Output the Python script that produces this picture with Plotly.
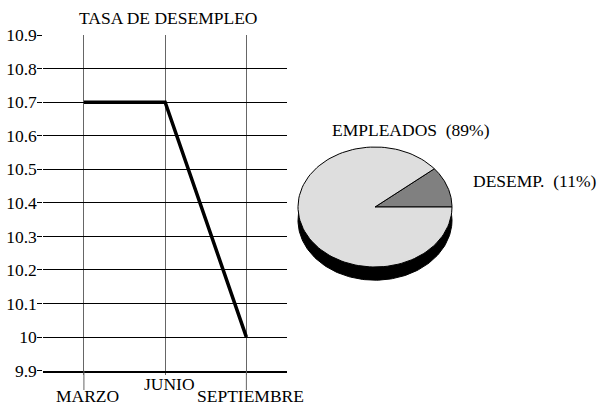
import numpy as np
import plotly.graph_objects as go

W, H = 606, 406

meses = ["MARZO", "JUNIO", "SEPTIEMBRE"]
tasa = [10.7, 10.7, 10.0]
y_ticks = [9.9, 10.0, 10.1, 10.2, 10.3, 10.4, 10.5, 10.6, 10.7, 10.8, 10.9]
y_tick_labels = ["9.9", "10", "10.1", "10.2", "10.3", "10.4", "10.5", "10.6", "10.7", "10.8", "10.9"]

pie_labels = ["DESEMP.", "EMPLEADOS"]
pie_values = [11, 89]
pie_colors = ["#808080", "#dedede"]


def px_x(p):
    return p / W


def px_y(p):
    return 1 - p / H


def slice_xy(a0, a1, n=120):
    t = np.radians(np.linspace(a0, a1, n))
    xs = np.concatenate([[0], np.cos(t), [0]])
    ys = np.concatenate([[0], np.sin(t), [0]])
    return xs, ys


fig = go.Figure()

# line chart
idx = list(range(len(meses)))
fig.add_trace(go.Scatter(x=idx, y=tasa, mode="lines",
                         line=dict(color="black", width=3.5),
                         xaxis="x", yaxis="y", showlegend=False))

# pie drawn as an ellipse (3D look: black shadow under the face)
t = np.radians(np.linspace(0, 360, 240))
fig.add_trace(go.Scatter(x=np.cos(t), y=np.sin(t) - 0.22, mode="lines",
                         fill="toself", fillcolor="black",
                         line=dict(color="black", width=1),
                         xaxis="x2", yaxis="y2", showlegend=False))

total = sum(pie_values)
start = 0.0
for lab, val, col in zip(pie_labels, pie_values, pie_colors):
    span = val / total * 360
    xs, ys = slice_xy(start, start + span)
    fig.add_trace(go.Scatter(x=xs, y=ys, mode="lines", fill="toself",
                             fillcolor=col, line=dict(color="black", width=1),
                             xaxis="x2", yaxis="y2", showlegend=False))
    start += span

FS = 17.5
fig.update_layout(
    width=W, height=H,
    margin=dict(l=0, r=0, t=0, b=0),
    paper_bgcolor="white", plot_bgcolor="white",
    font=dict(family="Liberation Serif", size=FS, color="black"),
    xaxis=dict(domain=[px_x(43.3), px_x(287)], range=[-0.5, 2.5],
               tickvals=idx, showticklabels=False, automargin=False,
               showgrid=True, gridcolor="#666666", gridwidth=1,
               ticks="outside", ticklen=2, tickcolor="#666666",
               showline=True, linecolor="black", linewidth=2,
               zeroline=False, fixedrange=True),
    yaxis=dict(domain=[px_y(370.7), px_y(35)], range=[9.9, 10.9],
               tickvals=y_ticks, ticktext=y_tick_labels, automargin=False,
               tickfont=dict(family="Liberation Serif", size=FS),
               ticklabelstandoff=-3,
               showgrid=True, gridcolor="black", gridwidth=1,
               ticks="outside", ticklen=5, tickcolor="black",
               showline=False, zeroline=False),
    xaxis2=dict(domain=[px_x(290), px_x(460)], range=[-85 / 77, 85 / 77],
                visible=False, anchor="y2", automargin=False),
    yaxis2=dict(domain=[px_y(290), px_y(140)], range=[-83 / 60, 67 / 60],
                visible=False, anchor="x2", automargin=False),
)

annotations = [dict(text="TASA DE DESEMPLEO", x=px_x(168), y=px_y(18),
                    xref="paper", yref="paper", showarrow=False,
                    xanchor="center", yanchor="middle")]

# staggered month labels
label_y = [396, 384, 396]
for i, (m, ly) in enumerate(zip(meses, label_y)):
    annotations.append(dict(text=m, x=i, y=px_y(ly), xref="x", yref="paper",
                            showarrow=False, xanchor="center", yanchor="middle",
                            xshift=4))
    if ly > 390:
        fig.add_shape(type="line", x0=i, x1=i, xref="x", yref="paper",
                      y0=px_y(370.7), y1=px_y(390),
                      line=dict(color="#666666", width=1))

pcts = [round(v / total * 100) for v in pie_values]
annotations.append(dict(text=f"{pie_labels[1]}\u00a0 ({pcts[1]}%)",
                        x=px_x(330), y=px_y(130), xref="paper", yref="paper",
                        showarrow=False, xanchor="left", yanchor="middle"))
annotations.append(dict(text=f"{pie_labels[0]}\u00a0 ({pcts[0]}%)",
                        x=px_x(471), y=px_y(181), xref="paper", yref="paper",
                        showarrow=False, xanchor="left", yanchor="middle"))

fig.update_layout(annotations=annotations)

# the page body has a default 8px margin; remove it so the chart sits at 0,0
fig.write_html("out.html", config={"displayModeBar": False},
               post_script="document.body.style.margin='0';document.body.style.padding='0';")
